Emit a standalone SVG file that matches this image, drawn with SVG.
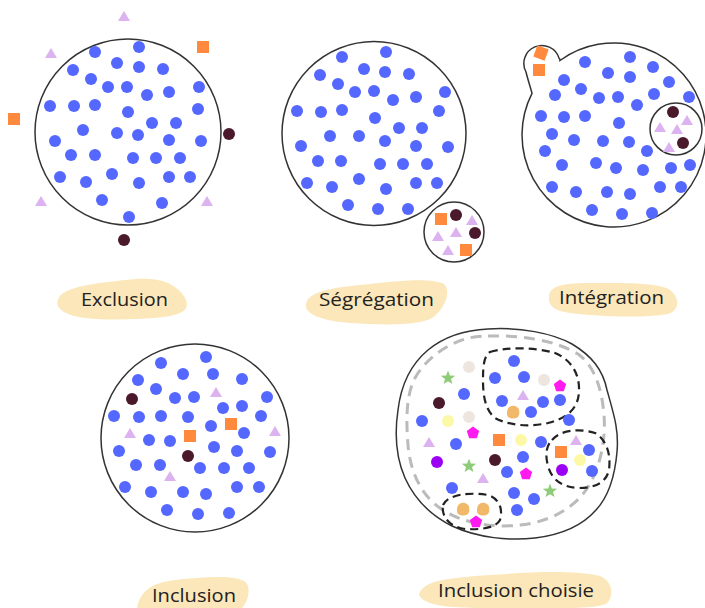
<svg xmlns="http://www.w3.org/2000/svg" xmlns:xlink="http://www.w3.org/1999/xlink" width="705" height="608" viewBox="0 0 705 608">
  <style>
    .ring { fill: none; stroke: #333; stroke-width: 1.5; }
    .b { fill: #5468ff; }
    .d { fill: #4a1a2c; }
    .t { fill: #dcb2f0; }
    .sq { fill: #ff8a3d; }
    .beige { fill: #eee5df; }
    .yel { fill: #fbf8a6; }
    .pur { fill: #9b00f5; }
    .mag { fill: #ff1aef; }
    .grn { fill: #8fcc7a; }
    .ora { fill: #f2b86a; }
    .gray-dash { fill: none; stroke: #bbb; stroke-width: 3; stroke-dasharray: 11 7; }
    .blk-dash { fill: none; stroke: #222; stroke-width: 2.2; stroke-dasharray: 8 5; }
    .tag { fill: #fbe7b9; }
    .lbl { font-family: "Open Sans", "Noto Sans", sans-serif; font-size: 18px; fill: #222; }
  </style>
  <defs>
    <path id="tri" d="M0,-5 L6,5 L-6,5Z"/>
    <rect id="sqr" x="-6" y="-6" width="12" height="12"/>
    <path id="star" d="M0,-7.5 L1.88,-2.59 L7.13,-2.32 L3.04,0.99 L4.41,6.07 L0,3.2 L-4.41,6.07 L-3.04,0.99 L-7.13,-2.32 L-1.88,-2.59Z"/>
    <path id="pent" d="M0,-6.5 L6.18,-2.01 L3.82,5.26 L-3.82,5.26 L-6.18,-2.01Z"/>
    <path id="blob" d="M-6,1 C-6,-5 -2,-7 2,-6 C6,-5 7,-1 6,3 C5,7 0,7 -3,6 C-6,5 -6,3 -6,1Z"/>
  </defs>

  <!-- Exclusion -->
  <g id="exclusion">
    <circle class="ring" cx="128" cy="132" r="93"/>
    <g class="b">
      <circle cx="95" cy="52" r="6"/><circle cx="139" cy="47" r="6"/><circle cx="117" cy="63" r="6"/>
      <circle cx="139" cy="67" r="6"/><circle cx="163" cy="69" r="6"/><circle cx="73" cy="70" r="6"/>
      <circle cx="91" cy="79" r="6"/><circle cx="108" cy="87" r="6"/><circle cx="127" cy="87" r="6"/>
      <circle cx="147" cy="95" r="6"/><circle cx="169" cy="92" r="6"/><circle cx="199" cy="87" r="6"/>
      <circle cx="50" cy="106" r="6"/><circle cx="74" cy="106" r="6"/><circle cx="95" cy="105" r="6"/>
      <circle cx="128" cy="112" r="6"/><circle cx="198" cy="109" r="6"/><circle cx="152" cy="123" r="6"/>
      <circle cx="176" cy="123" r="6"/><circle cx="83" cy="130" r="6"/><circle cx="117" cy="133" r="6"/>
      <circle cx="138" cy="135" r="6"/><circle cx="169" cy="140" r="6"/><circle cx="201" cy="141" r="6"/>
      <circle cx="55" cy="141" r="6"/><circle cx="71" cy="155" r="6"/><circle cx="95" cy="155" r="6"/>
      <circle cx="133" cy="158" r="6"/><circle cx="156" cy="158" r="6"/><circle cx="180" cy="158" r="6"/>
      <circle cx="112" cy="174" r="6"/><circle cx="60" cy="177" r="6"/><circle cx="86" cy="182" r="6"/>
      <circle cx="139" cy="183" r="6"/><circle cx="169" cy="177" r="6"/><circle cx="190" cy="177" r="6"/>
      <circle cx="102" cy="200" r="6"/><circle cx="162" cy="203" r="6"/><circle cx="129" cy="217" r="6"/>
    </g>
    <g class="t">
      <use href="#tri" x="124" y="16"/><use href="#tri" x="51" y="53"/>
      <use href="#tri" x="41" y="201"/><use href="#tri" x="207" y="201"/>
    </g>
    <g class="sq">
      <use href="#sqr" x="203" y="47"/><use href="#sqr" x="14" y="119"/>
    </g>
    <g class="d">
      <circle cx="229" cy="134" r="6"/><circle cx="124" cy="240" r="6"/>
    </g>
  </g>

  <!-- Ségrégation -->
  <g id="segregation">
    <circle class="ring" cx="374" cy="133.5" r="92"/>
    <g class="b">
      <circle cx="342" cy="57" r="6"/><circle cx="386" cy="52" r="6"/><circle cx="320" cy="75" r="6"/>
      <circle cx="364" cy="69" r="6"/><circle cx="385" cy="72" r="6"/><circle cx="409" cy="74" r="6"/>
      <circle cx="338" cy="84" r="6"/><circle cx="355" cy="92" r="6"/><circle cx="374" cy="91" r="6"/>
      <circle cx="393" cy="100" r="6"/><circle cx="416" cy="97" r="6"/><circle cx="445" cy="92" r="6"/>
      <circle cx="297" cy="111" r="6"/><circle cx="321" cy="112" r="6"/><circle cx="342" cy="110" r="6"/>
      <circle cx="375" cy="118" r="6"/><circle cx="439" cy="111" r="6"/><circle cx="399" cy="128" r="6"/>
      <circle cx="422" cy="128" r="6"/><circle cx="330" cy="136" r="6"/><circle cx="359" cy="136" r="6"/>
      <circle cx="385" cy="141" r="6"/><circle cx="416" cy="146" r="6"/><circle cx="448" cy="147" r="6"/>
      <circle cx="301" cy="146" r="6"/><circle cx="318" cy="161" r="6"/><circle cx="341" cy="161" r="6"/>
      <circle cx="380" cy="164" r="6"/><circle cx="403" cy="164" r="6"/><circle cx="427" cy="164" r="6"/>
      <circle cx="359" cy="179" r="6"/><circle cx="307" cy="183" r="6"/><circle cx="332" cy="187" r="6"/>
      <circle cx="386" cy="189" r="6"/><circle cx="416" cy="183" r="6"/><circle cx="437" cy="183" r="6"/>
      <circle cx="348" cy="205" r="6"/><circle cx="378" cy="209" r="6"/><circle cx="408" cy="209" r="6"/>
    </g>
    <circle class="ring" cx="454" cy="232" r="30"/>
    <g class="sq">
      <use href="#sqr" x="441" y="219"/><use href="#sqr" x="466" y="250"/>
    </g>
    <g class="d">
      <circle cx="456" cy="215" r="6"/><circle cx="475" cy="233" r="6"/>
    </g>
    <g class="t">
      <use href="#tri" x="472" y="220"/><use href="#tri" x="438" y="236"/>
      <use href="#tri" x="456" y="232"/><use href="#tri" x="448" y="250"/>
    </g>
  </g>

  <!-- Intégration -->
  <g id="integration">
    <path class="ring" d="M560,60.5 A92,92 0 1 1 532,93.3 C530,86 528,80 526,72 A18,18 0 1 1 559,58 Q560,59 560,60.5Z"/>
    <g class="sq">
      <use href="#sqr" transform="translate(541,53) rotate(20)"/>
      <use href="#sqr" x="539" y="70"/>
    </g>
    <g class="b">
      <circle cx="585" cy="62" r="6"/><circle cx="630" cy="57" r="6"/><circle cx="653" cy="67" r="6"/>
      <circle cx="608" cy="73" r="6"/><circle cx="630" cy="77" r="6"/><circle cx="669" cy="82" r="6"/>
      <circle cx="564" cy="80" r="6"/><circle cx="555" cy="95" r="6"/><circle cx="581" cy="89" r="6"/>
      <circle cx="599" cy="98" r="6"/><circle cx="618" cy="97" r="6"/><circle cx="637" cy="105" r="6"/>
      <circle cx="654" cy="94" r="6"/><circle cx="689" cy="97" r="6"/><circle cx="541" cy="116" r="6"/>
      <circle cx="564" cy="117" r="6"/><circle cx="585" cy="116" r="6"/><circle cx="619" cy="123" r="6"/>
      <circle cx="552" cy="134" r="6"/><circle cx="574" cy="140" r="6"/><circle cx="603" cy="141" r="6"/>
      <circle cx="629" cy="142" r="6"/><circle cx="647" cy="151" r="6"/><circle cx="545" cy="151" r="6"/>
      <circle cx="562" cy="165" r="6"/><circle cx="596" cy="163" r="6"/><circle cx="616" cy="168" r="6"/>
      <circle cx="643" cy="170" r="6"/><circle cx="671" cy="168" r="6"/><circle cx="690" cy="165" r="6"/>
      <circle cx="552" cy="187" r="6"/><circle cx="576" cy="192" r="6"/><circle cx="607" cy="192" r="6"/>
      <circle cx="630" cy="194" r="6"/><circle cx="660" cy="187" r="6"/><circle cx="681" cy="187" r="6"/>
      <circle cx="592" cy="210" r="6"/><circle cx="622" cy="214" r="6"/><circle cx="652" cy="213" r="6"/>
    </g>
    <circle class="ring" cx="676" cy="129" r="26"/>
    <g class="d">
      <circle cx="673" cy="112" r="6"/><circle cx="683" cy="143" r="6"/>
    </g>
    <g class="t">
      <use href="#tri" x="687" y="120"/><use href="#tri" x="660" y="127"/>
      <use href="#tri" x="677" y="129"/><use href="#tri" x="669" y="147"/>
    </g>
  </g>

  <!-- Inclusion -->
  <g id="inclusion">
    <circle class="ring" cx="195" cy="438" r="94"/>
    <g class="b">
      <circle cx="161" cy="363" r="6"/><circle cx="206" cy="357" r="6"/><circle cx="183" cy="374" r="6"/>
      <circle cx="213" cy="374" r="6"/><circle cx="138" cy="380" r="6"/><circle cx="242" cy="379" r="6"/>
      <circle cx="156" cy="389" r="6"/><circle cx="175" cy="398" r="6"/><circle cx="194" cy="397" r="6"/>
      <circle cx="267" cy="397" r="6"/><circle cx="223" cy="408" r="6"/><circle cx="242" cy="406" r="6"/>
      <circle cx="114" cy="416" r="6"/><circle cx="139" cy="417" r="6"/><circle cx="161" cy="416" r="6"/>
      <circle cx="188" cy="417" r="6"/><circle cx="261" cy="416" r="6"/><circle cx="211" cy="426" r="6"/>
      <circle cx="244" cy="433" r="6"/><circle cx="149" cy="440" r="6"/><circle cx="170" cy="441" r="6"/>
      <circle cx="119" cy="451" r="6"/><circle cx="214" cy="447" r="6"/><circle cx="237" cy="451" r="6"/>
      <circle cx="270" cy="452" r="6"/><circle cx="136" cy="465" r="6"/><circle cx="160" cy="465" r="6"/>
      <circle cx="200" cy="468" r="6"/><circle cx="224" cy="468" r="6"/><circle cx="249" cy="468" r="6"/>
      <circle cx="125" cy="487" r="6"/><circle cx="151" cy="492" r="6"/><circle cx="183" cy="492" r="6"/>
      <circle cx="206" cy="494" r="6"/><circle cx="237" cy="487" r="6"/><circle cx="259" cy="487" r="6"/>
      <circle cx="167" cy="510" r="6"/><circle cx="198" cy="514" r="6"/><circle cx="229" cy="513" r="6"/>
    </g>
    <g class="d">
      <circle cx="132" cy="399" r="6"/><circle cx="188" cy="456" r="6"/>
    </g>
    <g class="t">
      <use href="#tri" x="216" y="392"/><use href="#tri" x="130" y="433"/>
      <use href="#tri" x="275" y="431"/><use href="#tri" x="170" y="476"/>
    </g>
    <g class="sq">
      <use href="#sqr" x="190" y="436"/><use href="#sqr" x="231" y="424"/>
    </g>
  </g>

  <!-- Inclusion choisie -->
  <g id="inclusion-choisie">
    <path class="ring" d="M488,329 C520,327 552,333 572,344 C592,356 603,370 607,390 C614,415 619,430 617,452 C615,475 610,495 596,510 C582,526 560,535 535,538 C510,541 478,538 452,526 C430,515 415,500 405,478 C395,455 395,430 398,410 C401,385 410,365 428,350 C445,336 465,330 488,329Z"/>
    <path class="gray-dash" d="M488,336 C520,335 555,340 578,354 C595,366 602,390 604,415 C606,440 600,470 586,490 C572,510 548,522 520,525 C495,528 462,524 440,508 C420,494 410,470 408,445 C406,420 406,395 415,378 C425,360 445,345 465,339 C472,337 480,336 488,336Z"/>
    <path class="blk-dash" d="M490,352 C505,347 535,347 555,353 C572,360 580,375 579,392 C578,408 568,418 548,423 C530,427 510,426 495,418 C485,410 483,395 483,380 C483,365 484,356 490,352Z"/>
    <path class="blk-dash" d="M552,440 C560,430 580,428 595,433 C607,440 611,455 609,470 C606,483 595,488 578,488 C562,487 552,480 548,466 C545,455 546,446 552,440Z"/>
    <path class="blk-dash" d="M443,505 C448,494 470,492 488,495 C500,499 503,510 500,520 C496,528 480,530 465,529 C450,527 441,517 443,505Z"/>
    <g class="b">
      <circle cx="514" cy="361" r="6"/><circle cx="495" cy="378" r="6"/><circle cx="524" cy="377" r="6"/>
      <circle cx="464" cy="394" r="6"/><circle cx="502" cy="401" r="6"/><circle cx="543" cy="402" r="6"/>
      <circle cx="560" cy="400" r="6"/><circle cx="531" cy="412" r="6"/><circle cx="422" cy="421" r="6"/>
      <circle cx="569" cy="420" r="6"/><circle cx="541" cy="442" r="6"/><circle cx="456" cy="444" r="6"/>
      <circle cx="589" cy="450" r="6"/><circle cx="523" cy="457" r="6"/><circle cx="507" cy="472" r="6"/>
      <circle cx="592" cy="471" r="6"/><circle cx="452" cy="488" r="6"/><circle cx="514" cy="493" r="6"/>
      <circle cx="534" cy="499" r="6"/><circle cx="517" cy="510" r="6"/>
    </g>
    <g class="beige">
      <circle cx="469" cy="367" r="6"/><circle cx="544" cy="380" r="6"/><circle cx="469" cy="417" r="6"/>
    </g>
    <g class="yel">
      <circle cx="448" cy="421" r="6"/><circle cx="521" cy="440" r="6"/><circle cx="580" cy="460" r="6"/>
    </g>
    <g class="d">
      <circle cx="439" cy="403" r="6"/><circle cx="495" cy="460" r="6"/>
    </g>
    <g class="pur">
      <circle cx="437" cy="462" r="6"/><circle cx="562" cy="470" r="6"/>
    </g>
    <g class="t">
      <use href="#tri" x="523" y="395"/><use href="#tri" x="429" y="442"/>
      <use href="#tri" x="576" y="440"/><use href="#tri" x="483" y="478"/>
    </g>
    <g class="sq">
      <use href="#sqr" x="499" y="440"/><use href="#sqr" x="561" y="452"/>
    </g>
    <g class="mag">
      <use href="#pent" x="560" y="386"/><use href="#pent" x="473" y="433"/>
      <use href="#pent" x="526" y="474"/><use href="#pent" x="476" y="522"/>
    </g>
    <g class="grn">
      <use href="#star" x="448" y="378"/><use href="#star" x="469" y="466"/><use href="#star" x="550" y="491"/>
    </g>
    <g class="ora">
      <use href="#blob" x="513" y="412"/><use href="#blob" x="463" y="509"/><use href="#blob" x="483" y="509"/>
    </g>
  </g>

  <!-- Captions -->
  <g id="label-exclusion">
    <path class="tag" d="M58,300 C60,290 80,286 100,283 C125,280 150,275 168,283 C180,289 190,300 186,308 C182,316 160,318 138,319 C110,320 80,320 66,313 C58,309 56,304 58,300Z"/>
    <text class="lbl" x="81" y="306" textLength="87" lengthAdjust="spacingAndGlyphs">Exclusion</text>
  </g>
  <g id="label-segregation">
    <path class="tag" d="M306,304 C308,292 330,288 360,285 C395,281 430,277 444,284 C452,292 444,310 432,318 C418,326 380,325 350,323 C325,321 304,315 306,304Z"/>
    <text class="lbl" x="319" y="306" textLength="115" lengthAdjust="spacingAndGlyphs">Ségrégation</text>
  </g>
  <g id="label-integration">
    <path class="tag" d="M549,297 C549,285 565,283 595,283 C630,283 660,283 670,290 C680,298 680,310 668,314 C645,318 600,317 570,313 C555,311 548,306 549,297Z"/>
    <text class="lbl" x="559" y="304" textLength="105" lengthAdjust="spacingAndGlyphs">Intégration</text>
  </g>
  <g id="label-inclusion">
    <path class="tag" d="M137,608 C140,592 150,583 175,580 C205,577 240,574 247,584 C251,592 247,602 242,608Z"/>
    <text class="lbl" x="152" y="602" textLength="84" lengthAdjust="spacingAndGlyphs">Inclusion</text>
  </g>
  <g id="label-inclusion-choisie">
    <path class="tag" d="M419,595 C422,580 450,578 490,575 C530,572 575,570 600,576 C614,582 614,598 606,604 C590,610 540,608 500,608 C460,608 425,608 419,595Z"/>
    <text class="lbl" x="438" y="597" textLength="156" lengthAdjust="spacingAndGlyphs">Inclusion choisie</text>
  </g>
</svg>
